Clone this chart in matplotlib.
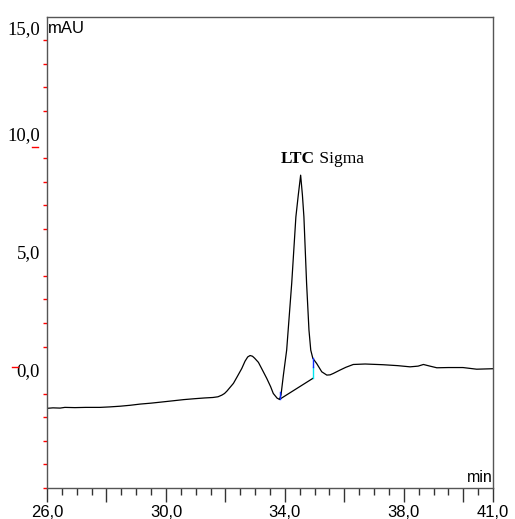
import matplotlib
matplotlib.use("Agg")
import matplotlib.pyplot as plt
import matplotlib.transforms as mtransforms
from matplotlib.ticker import FixedLocator

# chromatogram trace (min, mAU)
time_min = [26.0, 26.2, 26.44, 26.6, 26.94, 27.3, 27.78, 28.1, 28.46, 28.8, 29.13, 29.5,
            29.80, 30.24, 30.6, 30.98, 31.3, 31.58, 31.75, 31.88, 31.97, 32.05, 32.15, 32.27,
            32.40, 32.55, 32.66, 32.75, 32.83, 32.91, 32.98, 33.11, 33.23, 33.39, 33.52,
            33.61, 33.74, 33.82, 33.87, 33.95, 34.06, 34.23, 34.37, 34.45,
            34.53, 34.59, 34.64, 34.73, 34.81, 34.87, 34.94, 35.00, 35.07, 35.24,
            35.41, 35.52, 35.63, 35.85, 36.05, 36.30, 36.70, 37.30, 37.80, 38.21, 38.48,
            38.66, 38.88, 39.11, 39.50, 39.99, 40.45, 41.0]
signal_mau = [-1.62, -1.60, -1.61, -1.58, -1.59, -1.58, -1.58, -1.56, -1.53, -1.49, -1.44, -1.40,
              -1.36, -1.30, -1.25, -1.21, -1.18, -1.16, -1.13, -1.06, -0.99, -0.89, -0.74, -0.56,
              -0.27, 0.07, 0.38, 0.56, 0.62, 0.59, 0.51, 0.33, 0.04, -0.35, -0.70,
              -0.99, -1.19, -1.24, -1.05, -0.21, 0.85, 3.69, 6.50, 7.42,
              8.27, 7.42, 6.50, 3.69, 1.70, 0.85, 0.50, 0.40, 0.28, -0.07,
              -0.21, -0.20, -0.14, 0.0, 0.12, 0.24, 0.26, 0.23, 0.19, 0.14, 0.17,
              0.24, 0.17, 0.10, 0.11, 0.11, 0.04, 0.06]

# peak integration marks
peak_start = (33.82, -1.24)
peak_end = (34.94, -0.35)
peak_end_top = 0.50
peak_start_mark = -0.92
peak_name = "LTC"
peak_suffix = " Sigma"
peak_label_pos = (33.85, 8.77)

x_ticks = [26, 28, 30, 32, 34, 36, 38, 40, 41]
x_tick_labels = ["26,0", "", "30,0", "", "34,0", "", "38,0", "", "41,0"]
y_ticks = [0, 5, 10, 15]
y_tick_labels = ["0,0", "5,0", "10,0", "15,0"]
y_minor = [v for v in range(-5, 16) if v not in (0, 5, 10)]

fig = plt.figure(figsize=(5.15, 5.19), dpi=100)
ax = fig.add_axes([0.0913, 0.0597, 0.866, 0.9085])

ax.plot(time_min, signal_mau, color="black", lw=0.9)
# baseline drop and markers
ax.plot([peak_start[0], peak_end[0]], [peak_start[1], peak_end[1]], color="black", lw=0.9)
ax.plot([peak_end[0], peak_end[0]], [peak_end[1], 0.15], color="#00e5f0", lw=1.0)
ax.plot([peak_end[0], peak_end[0]], [0.15, peak_end_top], color="#1030ff", lw=1.0)
ax.plot([peak_start[0], peak_start[0]], [peak_start[1], peak_start_mark], color="#1030ff", lw=1.0)

ax.set_xlim(26, 41)
ax.set_ylim(-5, 15)

for s in ax.spines.values():
  s.set_color("#555555")
  s.set_linewidth(1.0)

ax.set_xticks(x_ticks)
ax.set_xticklabels(x_tick_labels, family="Liberation Sans", fontsize=12)
ax.xaxis.set_minor_locator(FixedLocator([26 + 0.5 * i for i in range(31)]))
ax.tick_params(axis="x", which="major", length=10, width=1, color="#333333", pad=2)
ax.tick_params(axis="x", which="minor", length=5, width=1, color="#333333")

ax.set_yticks(y_ticks)
ax.set_yticklabels(y_tick_labels, family="Liberation Serif", fontsize=13.5)
ax.yaxis.set_minor_locator(FixedLocator(y_minor))
ax.tick_params(axis="y", which="major", length=0, pad=5)
ax.tick_params(axis="y", which="minor", length=3, width=1, color="red")
for lbl in ax.get_yticklabels():
  lbl.set_verticalalignment("top")
off = mtransforms.ScaledTranslation(0, 5 / 72, fig.dpi_scale_trans)
for lbl in ax.get_yticklabels()[:3]:
  lbl.set_transform(lbl.get_transform() + off)
ax.get_yticklabels()[3].set_transform(ax.get_yticklabels()[3].get_transform()
                                      + mtransforms.ScaledTranslation(0, -3 / 72, fig.dpi_scale_trans))

# odd little red dashes next to two of the labels
blend = mtransforms.blended_transform_factory(ax.transAxes, ax.transData)
ax.plot([-0.078, -0.065], [0.13, 0.13], color="red", lw=1, transform=blend, clip_on=False)
ax.plot([-0.034, -0.020], [9.46, 9.46], color="red", lw=1, transform=blend, clip_on=False)

ax.text(0.003, 0.975, "mAU", transform=ax.transAxes, ha="left", va="center",
        family="Liberation Sans", fontsize=12)
ax.text(1.0, 0.006, "min", transform=ax.transAxes, ha="right", va="bottom",
        family="Liberation Sans", fontsize=11.5)

t1 = ax.text(peak_label_pos[0], peak_label_pos[1], peak_name, family="Liberation Serif",
             fontsize=12.5, fontweight="bold", ha="left", va="baseline")
ax.annotate(peak_suffix, xy=(1, 0), xycoords=t1, ha="left", va="bottom",
            family="Liberation Serif", fontsize=12.5)

fig.savefig("out.png", dpi=100)
